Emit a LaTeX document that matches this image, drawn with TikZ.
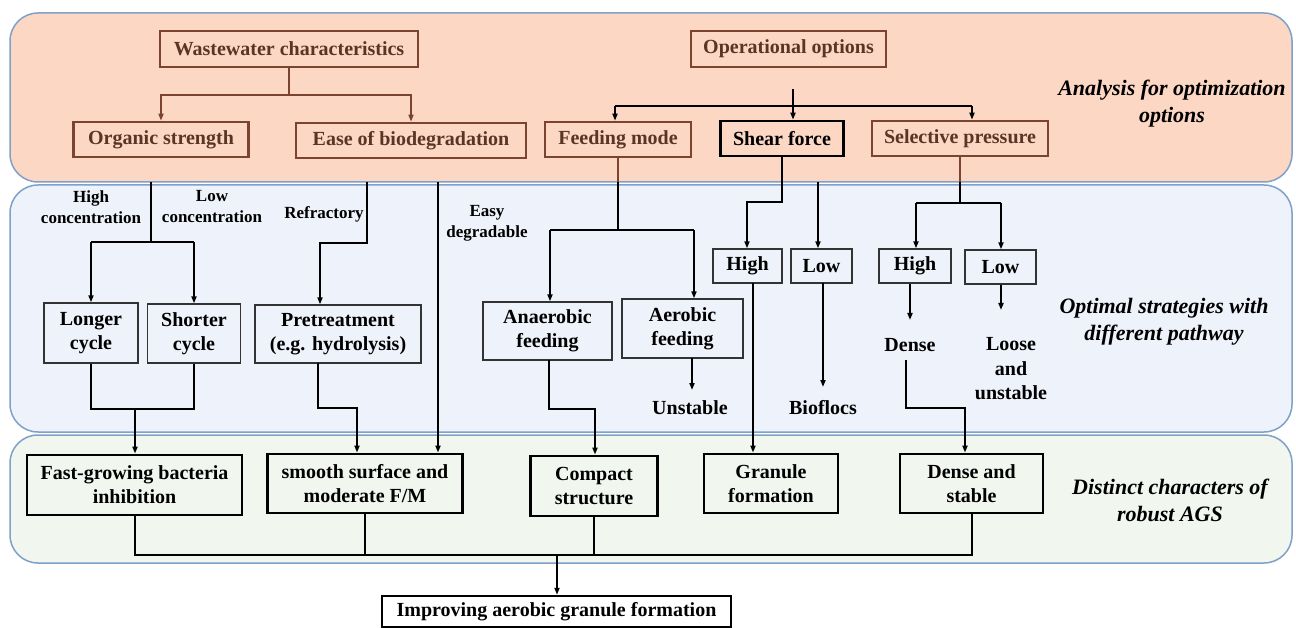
\documentclass[tikz,border=0pt]{standalone}
\usepackage{fontspec}
\setmainfont{Liberation Serif}
\usetikzlibrary{arrows.meta}
\definecolor{peach}{HTML}{FCD7C4}
\definecolor{paleblue}{HTML}{EEF2FA}
\definecolor{palegreen}{HTML}{F1F6EF}
\definecolor{panelborder}{HTML}{7FA0C8}
\definecolor{brownline}{RGB}{122,68,48}
\definecolor{browntext}{RGB}{92,52,38}
\begin{document}
\begin{tikzpicture}[x=1pt,y=-1pt,
  panel/.style={draw=panelborder,line width=1.5pt,rounded corners=28pt},
  boxfont/.style={font=\fontsize{20}{24}\selectfont\bfseries},
  topbox/.style={boxfont,draw=brownline,line width=2.6pt,text=browntext,inner sep=0pt,align=center},
  shearbox/.style={boxfont,draw=black,line width=2.6pt,inner sep=0pt,align=center},
  midbox/.style={boxfont,draw=black!80,line width=1.3pt,inner sep=0pt,align=center},
  botbox/.style={boxfont,draw=black,line width=2.8pt,inner sep=0pt,align=center},
  plain/.style={boxfont,inner sep=0pt,align=center},
  lab/.style={font=\fontsize{17}{21}\selectfont\bfseries,inner sep=0pt,align=center},
  side/.style={font=\fontsize{22}{27}\selectfont\bfseries\itshape,inner sep=0pt,align=center},
  bc/.style={draw=brownline,line width=1.5pt},
  kc/.style={draw=black,line width=2pt},
  tc/.style={draw=black,line width=1.5pt},
  tip/.style={-{Triangle[length=7pt,width=5pt]}}
]
\useasboundingbox (0,0) rectangle (1296,628);
% panels
\path[panel,fill=peach] (10,13) rectangle (1292,182);
\path[panel,fill=paleblue] (10,185) rectangle (1292,432);
\path[panel,fill=palegreen] (10,435) rectangle (1292,563);

% top row
\node[topbox,minimum width=258pt,minimum height=36pt] (ww) at (289,49) {Wastewater characteristics};
\node[topbox,minimum width=195pt,minimum height=36pt] (op) at (788.5,49) {Operational options};
\node[topbox,minimum width=175pt,minimum height=35pt] (org) at (161,139.5) {Organic strength};
\node[topbox,minimum width=230pt,minimum height=35pt] (ease) at (411,140.5) {Ease of biodegradation};
\node[topbox,minimum width=146pt,minimum height=35pt] (feed) at (618,139.5) {Feeding mode};
\node[shearbox,minimum width=123pt,minimum height=35pt] (shear) at (782,138.5) {Shear force};
\node[topbox,minimum width=176pt,minimum height=35pt] (sel) at (960,138.5) {Selective pressure};
\node[side] (lab1) at (1172,104) {Analysis for optimization\\options};

% top connectors
\coordinate (wwj) at (289,95);
\draw[bc] (ww.south) -- (wwj);
\draw[bc,tip] (wwj) -| (org.north);
\draw[bc,tip] (wwj) -| (ease.north);
\coordinate (opstart) at (793,89);
\coordinate (opL) at (615,106);
\coordinate (opR) at (972,106);
\draw[kc,tip] (opstart) -- (opstart |- shear.north);
\draw[kc] (opL) -- (opR);
\draw[kc,tip] (opL) -- (opL |- feed.north);
\draw[kc,tip] (opR) -- (opR |- sel.north);

% middle row
\node[midbox,minimum width=94pt,minimum height=60pt] (longer) at (91,333) {Longer\\cycle};
\node[midbox,minimum width=93pt,minimum height=59pt] (shorter) at (194,333.5) {Shorter\\cycle};
\node[midbox,minimum width=166pt,minimum height=58pt] (pre) at (338,334) {Pretreatment\\(e.g. hydrolysis)};
\node[midbox,minimum width=129pt,minimum height=58pt] (anae) at (547.5,331) {Anaerobic\\feeding};
\node[midbox,minimum width=121pt,minimum height=59pt] (aero) at (682.5,328.5) {Aerobic\\feeding};
\node[midbox,minimum width=69pt,minimum height=34pt] (hi1) at (747.5,266) {High};
\node[midbox,minimum width=61pt,minimum height=34pt] (lo1) at (821.5,266) {Low};
\node[midbox,minimum width=72pt,minimum height=34pt] (hi2) at (915,266) {High};
\node[midbox,minimum width=71pt,minimum height=34pt] (lo2) at (1000.5,267) {Low};
\node[plain] (unst) at (690,408) {Unstable};
\node[plain] (bio) at (823,408) {Bioflocs};
\node[plain] (dense) at (910,345) {Dense};
\node[plain,font=\fontsize{20}{24.5}\selectfont\bfseries] (loose) at (1011,369) {Loose\\and\\unstable};
\node[lab] (lhigh) at (91,207) {High\\concentration};
\node[lab] (llow) at (212,207) {Low\\concentration};
\node[lab] (lref) at (324,214) {Refractory};
\node[lab] (leasy) at (487,223) {Easy\\degradable};
\node[side] (lab2) at (1164,322) {Optimal strategies with\\different pathway};

% bottom row
\node[botbox,minimum width=215pt,minimum height=60pt] (fast) at (134.5,485) {Fast-growing bacteria\\inhibition};
\node[botbox,minimum width=195pt,minimum height=59pt] (smooth) at (365,483.5) {smooth surface and\\moderate F/M};
\node[botbox,minimum width=127pt,minimum height=60pt] (compact) at (594,486) {Compact\\structure};
\node[botbox,minimum width=134pt,minimum height=59pt] (gran) at (771,483.5) {Granule\\formation};
\node[botbox,minimum width=143pt,minimum height=59pt] (dstab) at (971.5,483.5) {Dense and\\stable};
\node[botbox,line width=2.4pt,minimum width=349pt,minimum height=31pt] (impr) at (556.5,611.5) {Improving aerobic granule formation};
\node[side] (lab3) at (1170,500) {Distinct characters of\\robust AGS};

% organic strength branch
\coordinate (orgs) at (151,182);
\coordinate (orgj) at (151,242);
\draw[kc] (orgs) -- (orgj);
\coordinate (orgL) at (91,242);
\coordinate (orgR) at (194,242);
\draw[kc] (orgL) -- (orgR);
\draw[kc,tip] (orgL) -- (orgL |- longer.north);
\draw[kc,tip] (orgR) -- (orgR |- shorter.north);
\coordinate (lsj) at (135,409);
\draw[kc] (longer.south) |- (lsj);
\draw[kc] (shorter.south) |- (lsj);
\draw[kc,tip] (lsj) -- (lsj |- fast.north);

% refractory branch
\coordinate (refs) at (367,182);
\coordinate (refj) at (320,243);
\draw[kc,tip] (refs) |- (refj) -- (refj |- pre.north);
\coordinate (pres) at (318,363);
\coordinate (prej) at (357,408);
\draw[kc,tip] (pres) |- (prej) -- (prej |- smooth.north);

% easy degradable
\coordinate (easys) at (438,182);
\draw[kc,tip] (easys) -- (easys |- smooth.north);

% feeding mode
\coordinate (feede) at (618,182);
\coordinate (feedj) at (618,230);
\coordinate (feedL) at (550,230);
\coordinate (feedR) at (694,230);
\draw[bc] (feed.south) -- (feede);
\draw[kc] (feede) -- (feedj);
\draw[kc] (feedL) -- (feedR);
\draw[kc,tip] (feedL) -- (feedL |- anae.north);
\draw[kc,tip] (feedR) -- (feedR |- aero.north);
\coordinate (aeros) at (692,358);
\draw[kc,tip] (aeros) -- (692,390);
\coordinate (anaes) at (549,360);
\coordinate (anaej) at (595,409);
\draw[kc,tip] (anaes) |- (anaej) -- (anaej |- compact.north);

% shear force
\coordinate (shj) at (747,202);
\draw[kc,tip] (shear.south) |- (shj) -- (shj |- hi1.north);
\coordinate (lows) at (818,182);
\draw[kc,tip] (lows) -- (lows |- lo1.north);
\coordinate (hi1s) at (753,283);
\draw[kc,tip] (hi1s) -- (hi1s |- gran.north);
\coordinate (lo1s) at (823,283);
\draw[kc,tip] (lo1s) -- (823,387);

% selective pressure
\coordinate (sele) at (960,182);
\coordinate (selj) at (960,203);
\coordinate (selL) at (916,203);
\coordinate (selR) at (1001,203);
\draw[bc] (sel.south) -- (sele);
\draw[kc] (sele) -- (selj);
\draw[kc] (selL) -- (selR);
\draw[kc,tip] (selL) -- (selL |- hi2.north);
\draw[kc,tip] (selR) -- (selR |- lo2.north);
\draw[kc,tip] (hi2.south -| 910,0) -- (910,320);
\draw[kc,tip] (lo2.south -| 1001,0) -- (1001,310);
\coordinate (dens) at (906,360);
\coordinate (denj) at (965,408);
\draw[kc,tip] (dens) |- (denj) -- (denj |- dstab.north);

% final merge
\coordinate (mL) at (135,555);
\coordinate (mR) at (972,555);
\coordinate (mC) at (557,555);
\draw[tc] (fast.south -| mL) -- (mL) -- (mR) -- (dstab.south -| mR);
\draw[tc] (smooth.south) -- (smooth.south |- mL);
\draw[tc] (compact.south) -- (compact.south |- mL);
\draw[kc,tip] (mC) -- (impr.north -| mC);
\end{tikzpicture}
\end{document}
